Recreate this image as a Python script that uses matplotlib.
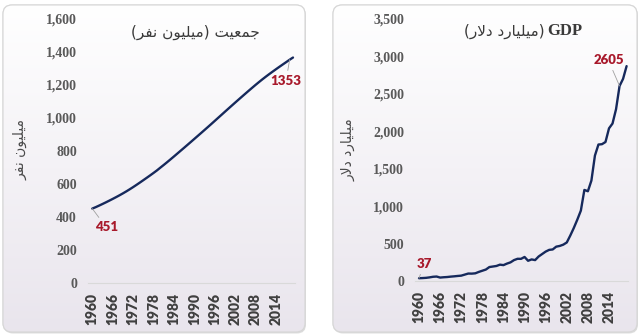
import re
import numpy as np
import matplotlib
matplotlib.use("Agg")
import matplotlib.pyplot as plt
from matplotlib.patches import FancyBboxPatch
from matplotlib.ticker import FuncFormatter

# ---------------------------------------------------------------- data
years = list(range(1960, 2020))
population = [
    451, 459.6, 469.1, 478.8, 488.8, 499.1, 509.6, 520.4, 531.5, 543.1,
    555.2, 567.9, 581.1, 594.8, 608.8, 623.1, 637.5, 652.1, 667.0, 682.3,
    699.0, 715.4, 732.2, 749.4, 766.8, 784.4, 802.1, 819.7, 837.5, 855.3,
    873.3, 891.3, 909.3, 927.4, 945.6, 963.9, 982.4, 1001.0, 1019.5, 1038.1,
    1056.6, 1075.0, 1093.3, 1111.5, 1129.6, 1147.6, 1165.5, 1183.2, 1200.7, 1217.7,
    1234.3, 1250.3, 1265.8, 1280.8, 1295.6, 1310.2, 1324.5, 1338.7, 1353, 1366.4,
]
gdp = [
    37, 39.2, 42.2, 48.4, 56.5, 59.6, 45.9, 50.1, 53.1, 58.4,
    62.4, 67.4, 71.5, 85.5, 99.5, 98.5, 102.7, 121.5, 137.3, 153.0,
    186.3, 193.5, 200.7, 218.3, 212.2, 232.5, 249.0, 279.0, 296.6, 296.0,
    321.0, 270.1, 288.2, 279.3, 327.3, 360.3, 392.9, 415.9, 421.4, 458.8,
    468.4, 485.4, 514.9, 607.7, 709.1, 820.4, 940.3, 1216.7, 1198.9, 1341.9,
    1675.6, 1823.1, 1827.6, 1856.7, 2039.1, 2103.6, 2294.8, 2605, 2701.1, 2870.5,
]
xticks = list(range(1960, 2015, 6))
pop_yticks = list(range(0, 1601, 200))
gdp_yticks = list(range(0, 3501, 500))
pop_labeled_years = [1960, 2018]
gdp_labeled_years = [1960, 2017]

pop_title = "جمعیت (میلیون نفر)"
pop_ylabel = "میلیون نفر"
gdp_title_fa = "(میلیارد دلار)"
gdp_title_en = "GDP"
gdp_ylabel = "میلیارد دلار"

# ------------------------------------------------ minimal Persian shaping
DUAL = set("بپتثجچحخسشصضطظعغفقکگلمنهیئ")
FORMS = {  # isolated, final, initial, medial
    "ج": ("\uFE9D", "\uFE9E", "\uFE9F", "\uFEA0"),
    "م": ("\uFEE1", "\uFEE2", "\uFEE3", "\uFEE4"),
    "ع": ("\uFEC9", "\uFECA", "\uFECB", "\uFECC"),
    "ی": ("\uFBFC", "\uFBFD", "\uFBFE", "\uFBFF"),
    "ت": ("\uFE95", "\uFE96", "\uFE97", "\uFE98"),
    "ل": ("\uFEDD", "\uFEDE", "\uFEDF", "\uFEE0"),
    "و": ("\uFEED", "\uFEEE", "\uFEED", "\uFEEE"),
    "ن": ("\uFEE5", "\uFEE6", "\uFEE7", "\uFEE8"),
    "ف": ("\uFED1", "\uFED2", "\uFED3", "\uFED4"),
    "ر": ("\uFEAD", "\uFEAE", "\uFEAD", "\uFEAE"),
    "ا": ("\uFE8D", "\uFE8E", "\uFE8D", "\uFE8E"),
    "د": ("\uFEA9", "\uFEAA", "\uFEA9", "\uFEAA"),
}
LAM_ALEF = ("\uFEFB", "\uFEFC")
MIRROR = {"(": ")", ")": "("}


def shape(s):
    out, i, n = [], 0, len(s)
    while i < n:
        c = s[i]
        if c not in FORMS:
            out.append(c)
            i += 1
            continue
        joined_prev = i > 0 and s[i - 1] in DUAL
        if c == "ل" and i + 1 < n and s[i + 1] == "ا":
            out.append(LAM_ALEF[1 if joined_prev else 0])
            i += 2
            continue
        joined_next = c in DUAL and i + 1 < n and s[i + 1] in FORMS
        out.append(FORMS[c][(1 if joined_prev else 0) + (2 if joined_next else 0)])
        i += 1
    return "".join(out)


def rtl(s):
    runs = re.findall(r"[A-Za-z0-9]+|[^A-Za-z0-9]+", shape(s))
    vis = []
    for r in reversed(runs):
        if re.match(r"[A-Za-z0-9]", r):
            vis.append(r)
        else:
            vis.append("".join(MIRROR.get(ch, ch) for ch in reversed(r)))
    return "".join(vis)


# ---------------------------------------------------------------- figure
W, H = 640, 335
fig = plt.figure(figsize=(W / 100, H / 100), dpi=100)
fig.patch.set_facecolor("white")

# background layer in pixel coordinates for the rounded panels
bg = fig.add_axes([0, 0, 1, 1], zorder=0)
bg.set_xlim(0, W)
bg.set_ylim(H, 0)
bg.axis("off")

grad = np.linspace(0, 1, 256)[:, None]
top_c = np.array([1.0, 1.0, 1.0])
bot_c = np.array([0.914, 0.898, 0.929])
grad_img = top_c + (bot_c - top_c) * grad[..., None]

for (x0, x1) in [(3, 305), (333, 637)]:
    y0, y1 = 5, 332
    shadow = FancyBboxPatch((x0 + 1, y0 + 1.5), x1 - x0, y1 - y0,
                            boxstyle="round,pad=0,rounding_size=9",
                            fc="#c8c8c8", ec="none", alpha=0.6)
    bg.add_patch(shadow)
    box = FancyBboxPatch((x0, y0), x1 - x0, y1 - y0,
                         boxstyle="round,pad=0,rounding_size=9",
                         fc="white", ec="#dcdcdc", lw=0.8)
    bg.add_patch(box)
    im = bg.imshow(grad_img, extent=(x0, x1, y1, y0), aspect="auto",
                   interpolation="bilinear", zorder=2)
    im.set_clip_path(box)
    edge = FancyBboxPatch((x0, y0), x1 - x0, y1 - y0,
                          boxstyle="round,pad=0,rounding_size=9",
                          fc="none", ec="#d6d6d6", lw=0.8, zorder=3)
    bg.add_patch(edge)

LINE_C = "#16295c"
TICK_C = "#595959"
YEAR_C = "#3f3f3f"
RED_C = "#a8192b"


def style_axes(ax, xlim, ylim, yticks):
    ax.set_facecolor("none")
    ax.set_xlim(*xlim)
    ax.set_ylim(*ylim)
    for s in ["top", "right", "left"]:
        ax.spines[s].set_visible(False)
    ax.spines["bottom"].set_color("#d9d9d9")
    ax.spines["bottom"].set_linewidth(0.8)
    ax.set_xticks(xticks)
    ax.set_xticklabels([str(y) for y in xticks], rotation=90,
                       fontfamily="Lato", fontweight="heavy", fontsize=10,
                       color=YEAR_C)
    ax.set_yticks(yticks)
    ax.yaxis.set_major_formatter(FuncFormatter(lambda v, p: f"{v:,.0f}"))
    for lab in ax.get_yticklabels():
        lab.set_fontfamily("Liberation Serif")
        lab.set_fontweight("bold")
        lab.set_fontsize(10)
        lab.set_color(TICK_C)
    ax.tick_params(axis="x", length=0, pad=7)
    ax.tick_params(axis="y", length=0, pad=8)


def label_point(ax, series, year, offset):
    v = series[years.index(year)]
    ax.annotate(f"{v:.0f}", xy=(year, v), xytext=offset,
                textcoords="offset points", ha="center", va="center",
                fontfamily="Lato", fontweight="heavy", fontsize=9.5, color=RED_C,
                arrowprops=dict(arrowstyle="-", color="#a0a0a0", lw=0.6,
                                shrinkA=1, shrinkB=0))


# ---- population panel
ax1 = fig.add_axes([88 / W, (H - 283) / H, 207 / W, (283 - 19) / H], zorder=5)
ax1.plot(years, population, color=LINE_C, lw=1.7, solid_capstyle="round")
style_axes(ax1, (1958.74, 2019.59), (0, 1600), pop_yticks)
label_point(ax1, population, pop_labeled_years[0], (10, -13.5))
label_point(ax1, population, pop_labeled_years[1], (-2.5, -15))

fig.text(195.5 / W, 1 - 32 / H, rtl(pop_title), ha="center", va="center",
         fontfamily="DejaVu Sans", fontsize=11, color="#3a3a3a")
fig.text(20 / W, 1 - 150 / H, rtl(pop_ylabel), ha="center", va="center",
         rotation=90, fontfamily="DejaVu Sans", fontsize=10, color="#4a4a4a")

# ---- GDP panel
ax2 = fig.add_axes([415 / W, (H - 281) / H, 213 / W, 262 / H], zorder=5)
ax2.plot(years, gdp, color=LINE_C, lw=1.7, solid_capstyle="round")
style_axes(ax2, (1958.86, 2019.4), (0, 3500), gdp_yticks)
label_point(ax2, gdp, gdp_labeled_years[0], (3.6, 10))
label_point(ax2, gdp, gdp_labeled_years[1], (-8, 18.5))

fig.text(545 / W, 1 - 31 / H, rtl(gdp_title_fa), ha="right", va="center",
         fontfamily="DejaVu Sans", fontsize=11, color="#3a3a3a")
fig.text(547 / W, 1 - 31 / H, gdp_title_en, ha="left", va="center",
         fontfamily="Liberation Serif", fontweight="bold", fontsize=12,
         color="#3a3a3a")
fig.text(348 / W, 1 - 150 / H, rtl(gdp_ylabel), ha="center", va="center",
         rotation=90, fontfamily="DejaVu Sans", fontsize=10, color="#4a4a4a")

fig.savefig("out.png", dpi=100, facecolor="white")
